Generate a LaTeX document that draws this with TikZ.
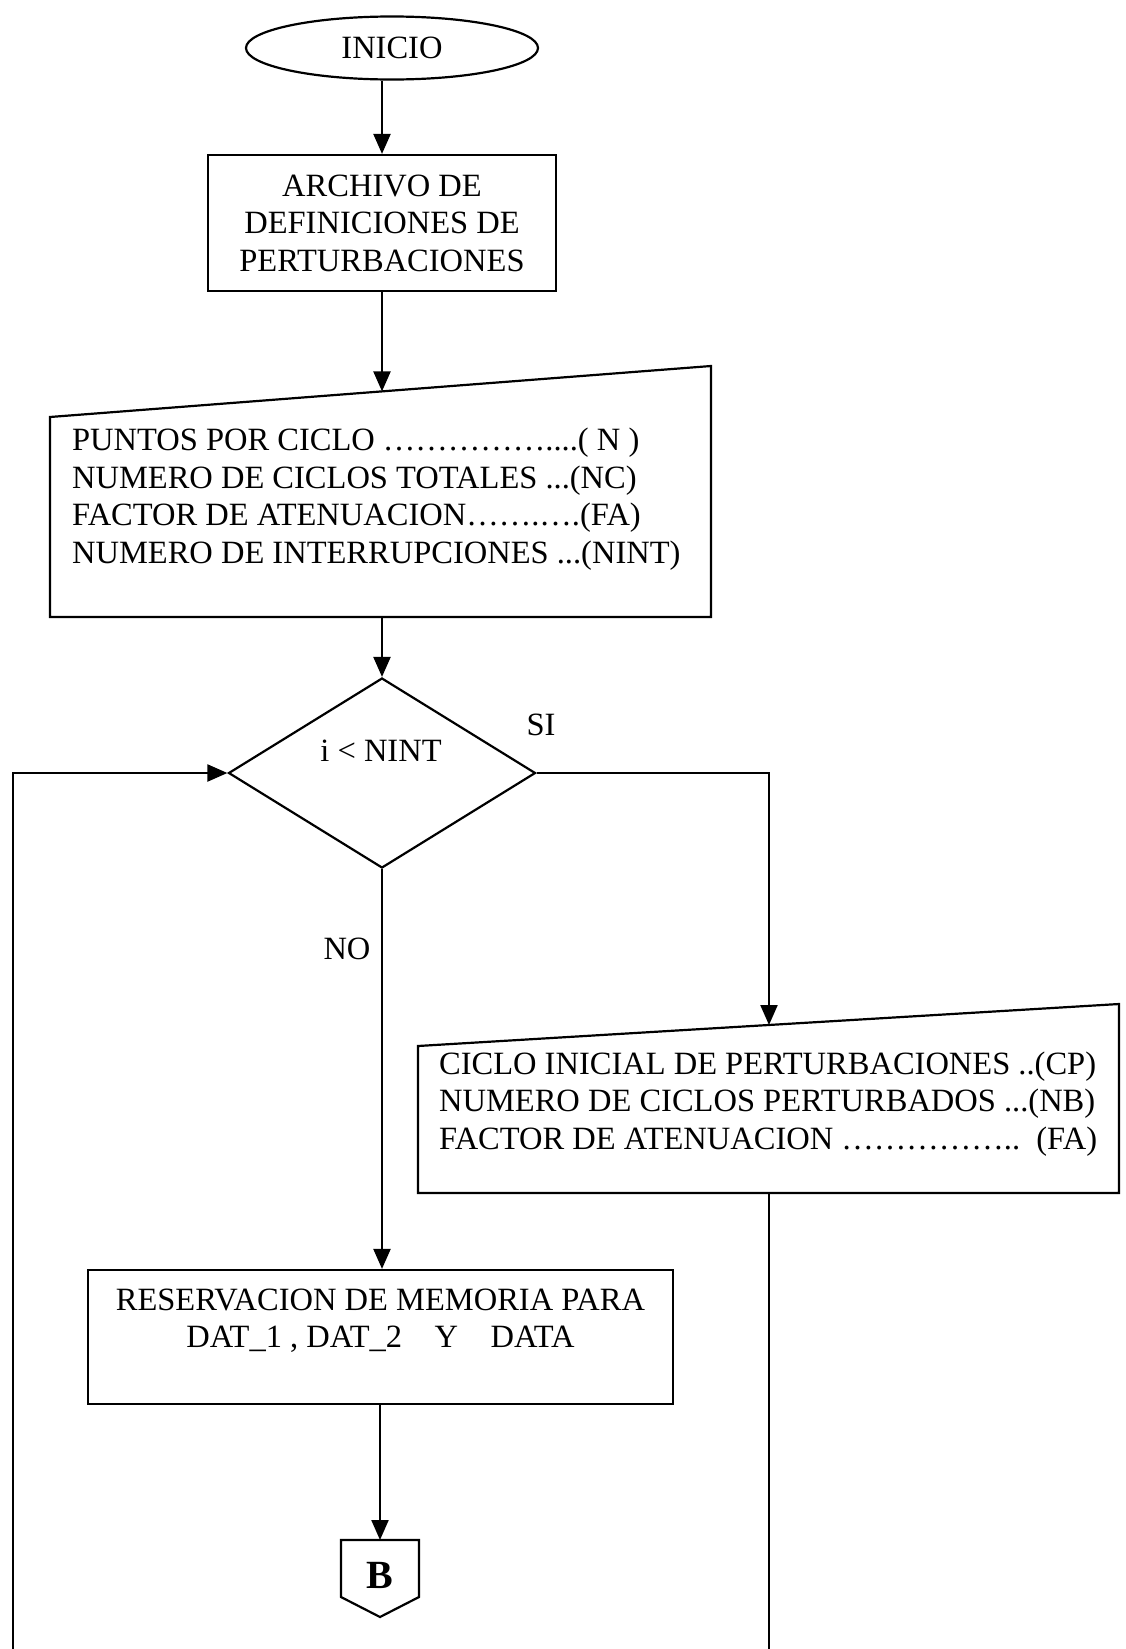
\documentclass[tikz,border=0pt]{standalone}
\usepackage{fontspec}
\setmainfont{Liberation Serif}
\usetikzlibrary{shapes.geometric,arrows.meta}
\begin{document}
\begin{tikzpicture}[x=1pt,y=-1pt,
  line width=2.2pt,
  font=\fontsize{32.5}{37.5}\selectfont,
  flow/.style={-{Triangle[length=20pt,width=17pt]}},
  procbox/.style={draw,rectangle,inner sep=0pt,align=center},
  txt/.style={inner sep=0pt,align=left,anchor=west},
  lbl/.style={inner sep=0pt},
]
\useasboundingbox (0,0) rectangle (1125,1649);

% start terminal and definitions file
\node[draw,ellipse,minimum width=292pt,minimum height=63pt,inner sep=0pt] (inicio) at (392,48) {INICIO};
\node[procbox,minimum width=348pt,minimum height=136pt] (archivo) at (382,223)
  {ARCHIVO DE\\DEFINICIONES DE\\PERTURBACIONES};

% manual input: general parameters
\coordinate (m1tl) at (50,417);
\coordinate (m1tr) at (711,366);
\coordinate (m1br) at (711,617);
\coordinate (m1bl) at (50,617);
\coordinate (m1in) at (382,391.4);
\coordinate (m1out) at (382,617);
\draw (m1tl) -- (m1tr) -- (m1br) -- (m1bl) -- cycle;
\node[txt] (params) at (71,499)
  {PUNTOS POR CICLO ……………....( N )\\
   NUMERO DE CICLOS TOTALES ...(NC)\\
   FACTOR DE ATENUACION…….….(FA)\\
   NUMERO DE INTERRUPCIONES ...(NINT)};

% decision
\node[draw,diamond,minimum width=307pt,minimum height=190pt,inner sep=0pt] (dec) at (382,773) {};
\node[lbl] (cond) at (381,751) {i < NINT};
\node[lbl] (si) at (541,725) {SI};
\node[lbl] (no) at (347,949) {NO};

% manual input: interruption parameters
\coordinate (m2tl) at (418,1046);
\coordinate (m2tr) at (1119,1004);
\coordinate (m2br) at (1119,1193);
\coordinate (m2bl) at (418,1193);
\coordinate (m2in) at (769,1025);
\coordinate (m2out) at (769,1193);
\draw (m2tl) -- (m2tr) -- (m2br) -- (m2bl) -- cycle;
\node[txt] (interr) at (438,1104)
  {CICLO INICIAL DE PERTURBACIONES ..(CP)\\
   NUMERO DE CICLOS PERTURBADOS ...(NB)\\
   FACTOR DE ATENUACION ……………..\ \ (FA)};

% memory reservation
\node[procbox,minimum width=585pt,minimum height=134pt] (reserv) at (380.5,1337)
  {RESERVACION DE MEMORIA PARA\\DAT\_1 , DAT\_2\quad Y\quad DATA\\\mbox{}};

% off-page connector B
\coordinate (btl) at (341,1540);
\coordinate (btr) at (419,1540);
\coordinate (bbr) at (419,1597);
\coordinate (btip) at (380,1617);
\coordinate (bbl) at (341,1597);
\coordinate (btop) at (380,1540);
\draw (btl) -- (btr) -- (bbr) -- (btip) -- (bbl) -- cycle;
\node[lbl,font=\fontsize{40}{40}\selectfont\bfseries] (bname) at (380,1575) {B};

% loop ends running off the page
\coordinate (rightend) at (769,1649);
\coordinate (leftend) at (13,1649);

% connectors
\draw[flow] (archivo.north |- inicio.south) -- (archivo.north);
\draw[flow] (archivo.south) -- (m1in);
\draw[flow] (m1out) -- (dec.north);
\draw[flow] (dec.east) -| (m2in);
\draw[flow] (dec.south) -- (dec.south |- reserv.north);
\draw[flow] (reserv.south -| btop) -- (btop);
\draw (m2out) -- (rightend);
\draw[flow] (leftend) |- (dec.west);
\end{tikzpicture}
\end{document}
